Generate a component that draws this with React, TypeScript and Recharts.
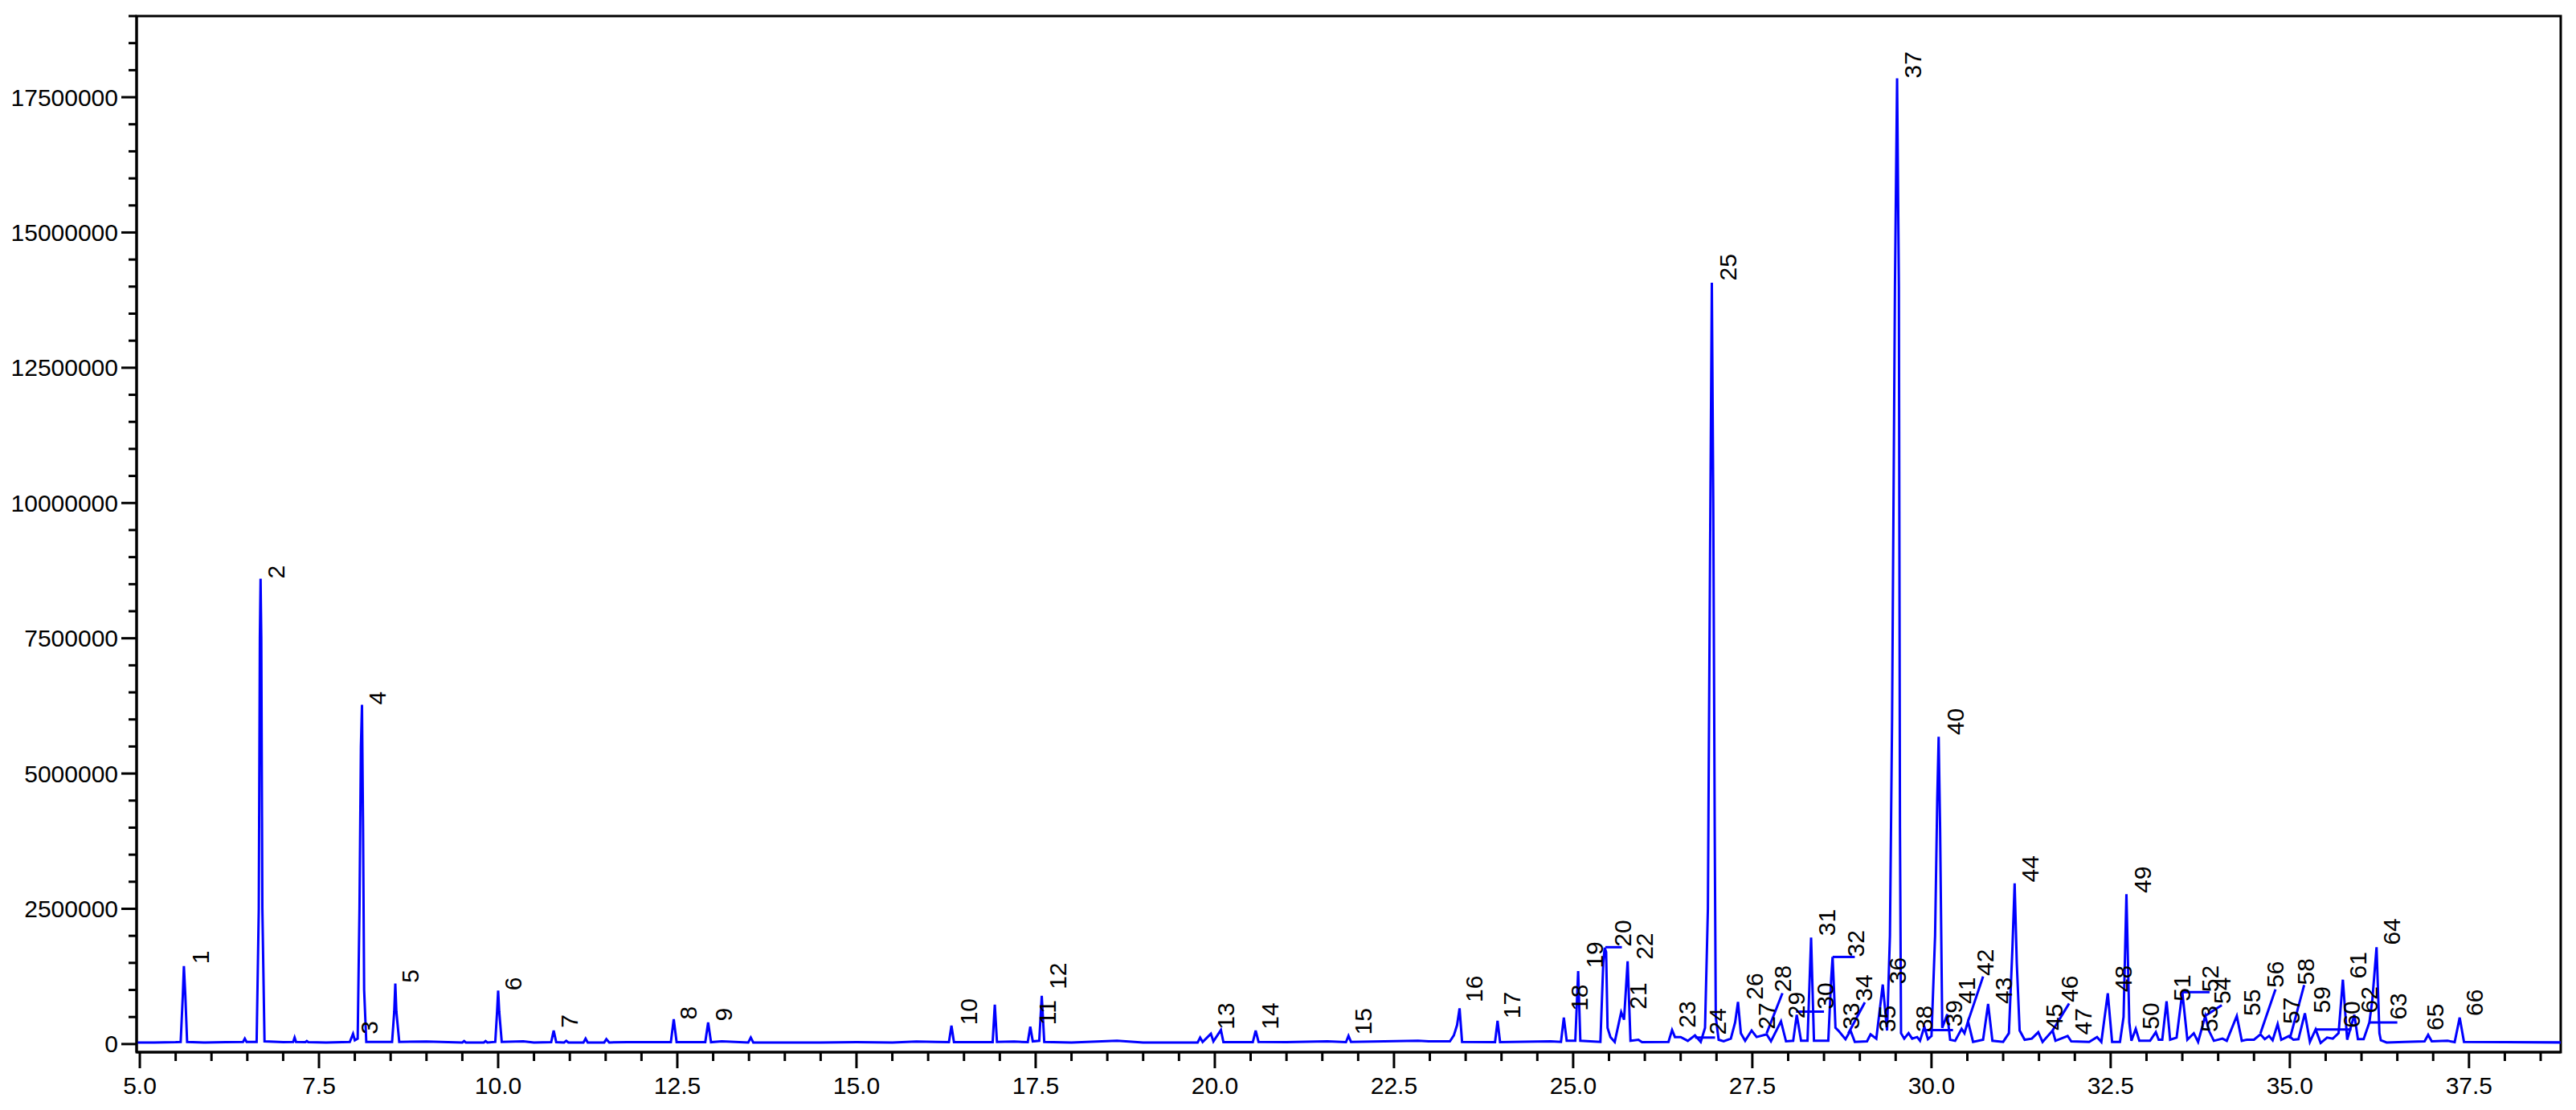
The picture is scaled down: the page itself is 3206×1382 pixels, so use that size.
import React from "react";
import { ComposedChart, Line, Scatter, XAxis, YAxis, ReferenceLine, ReferenceArea } from "recharts";

// Chromatogram trace: [retention time (min), intensity]
const TRACE: [number, number][] = [
  [4.955, 30000], [5.2, 30000], [5.5, 35000], [5.57, 40000], [5.6, 900000], [5.615, 1440000], [5.635, 900000], [5.66, 40000],
  [5.9, 30000], [6.2, 35000], [6.44, 40000], [6.465, 100000], [6.49, 40000], [6.63, 40000], [6.66, 2500000], [6.675, 7500000],
  [6.685, 8600000], [6.695, 7500000], [6.71, 2500000], [6.74, 50000], [7.0, 35000], [7.14, 40000], [7.16, 120000], [7.18, 40000],
  [7.31, 35000], [7.33, 55000], [7.35, 35000], [7.6, 30000], [7.93, 40000], [7.975, 190000], [8.0, 70000], [8.04, 100000],
  [8.065, 2500000], [8.085, 5500000], [8.1, 6270000], [8.115, 4000000], [8.13, 1000000], [8.16, 40000], [8.52, 40000],
  [8.55, 600000], [8.565, 1120000], [8.58, 600000], [8.62, 40000], [9.0, 45000], [9.5, 30000], [9.525, 55000], [9.55, 30000],
  [9.8, 30000], [9.825, 55000], [9.85, 30000], [9.96, 40000], [9.985, 600000], [10.0, 990000], [10.015, 600000], [10.05, 40000],
  [10.35, 50000], [10.5, 30000], [10.74, 35000], [10.775, 250000], [10.81, 35000], [10.92, 30000], [10.95, 60000], [10.98, 30000],
  [11.19, 30000], [11.22, 100000], [11.25, 30000], [11.48, 30000], [11.51, 90000], [11.55, 30000], [11.8, 35000], [12.41, 35000],
  [12.45, 460000], [12.49, 35000], [12.89, 35000], [12.93, 400000], [12.97, 35000], [13.12, 50000], [13.49, 30000],
  [13.525, 120000], [13.56, 30000], [14.5, 30000], [15.0, 35000], [15.5, 30000], [15.835, 45000], [16.11, 40000], [16.29, 35000],
  [16.325, 340000], [16.36, 35000], [16.9, 35000], [16.93, 730000], [16.96, 40000], [17.2, 45000], [17.39, 35000],
  [17.425, 320000], [17.46, 50000], [17.55, 60000], [17.585, 890000], [17.62, 40000], [18.0, 30000], [18.635, 60000],
  [19.0, 30000], [19.76, 30000], [19.795, 120000], [19.83, 40000], [19.945, 190000], [19.98, 50000], [20.085, 260000],
  [20.12, 35000], [20.53, 35000], [20.57, 250000], [20.61, 40000], [21.0, 35000], [21.57, 50000], [21.83, 35000],
  [21.865, 150000], [21.9, 40000], [22.835, 60000], [22.985, 50000], [23.28, 50000], [23.335, 160000], [23.38, 350000],
  [23.415, 660000], [23.45, 40000], [23.91, 35000], [23.945, 430000], [23.98, 35000], [24.685, 50000], [24.83, 40000],
  [24.87, 490000], [24.91, 60000], [25.03, 60000], [25.07, 1350000], [25.1, 60000], [25.38, 40000], [25.42, 1500000],
  [25.44, 1780000], [25.46, 1700000], [25.48, 300000], [25.52, 130000], [25.58, 40000], [25.67, 590000], [25.71, 450000],
  [25.76, 1530000], [25.8, 60000], [25.91, 80000], [25.96, 35000], [26.33, 40000], [26.38, 260000], [26.42, 130000],
  [26.5, 130000], [26.6, 60000], [26.7, 160000], [26.78, 40000], [26.84, 300000], [26.88, 2500000], [26.91, 9000000],
  [26.935, 14070000], [26.955, 10000000], [26.975, 4000000], [26.99, 500000], [27.03, 80000], [27.1, 50000], [27.2, 100000],
  [27.26, 400000], [27.3, 780000], [27.34, 200000], [27.4, 60000], [27.49, 250000], [27.56, 130000], [27.7, 180000],
  [27.76, 50000], [27.9, 420000], [27.97, 50000], [28.07, 60000], [28.12, 540000], [28.18, 60000], [28.27, 60000],
  [28.32, 1970000], [28.36, 60000], [28.56, 60000], [28.6, 1200000], [28.62, 1610000], [28.64, 1000000], [28.66, 300000],
  [28.7, 250000], [28.8, 90000], [28.87, 250000], [28.93, 40000], [29.1, 50000], [29.15, 180000], [29.23, 100000],
  [29.32, 1100000], [29.38, 250000], [29.42, 2000000], [29.45, 6000000], [29.49, 14000000], [29.52, 17850000],
  [29.545, 14000000], [29.56, 4000000], [29.575, 200000], [29.62, 100000], [29.68, 200000], [29.73, 100000], [29.8, 130000],
  [29.84, 60000], [29.9, 320000], [29.95, 90000], [30.0, 150000], [30.05, 2000000], [30.08, 4500000], [30.1, 5680000],
  [30.12, 4000000], [30.15, 300000], [30.22, 550000], [30.26, 80000], [30.33, 60000], [30.42, 280000], [30.46, 200000],
  [30.51, 420000], [30.58, 40000], [30.72, 80000], [30.79, 740000], [30.85, 60000], [31.0, 40000], [31.08, 200000],
  [31.13, 1800000], [31.16, 2970000], [31.19, 1500000], [31.23, 250000], [31.3, 80000], [31.4, 100000], [31.49, 220000],
  [31.55, 40000], [31.69, 250000], [31.73, 60000], [31.9, 150000], [31.95, 50000], [32.2, 40000], [32.31, 130000],
  [32.37, 40000], [32.46, 940000], [32.52, 40000], [32.63, 40000], [32.68, 500000], [32.72, 2770000], [32.76, 400000],
  [32.79, 60000], [32.85, 280000], [32.9, 60000], [33.05, 60000], [33.13, 220000], [33.17, 80000], [33.22, 80000],
  [33.28, 790000], [33.33, 80000], [33.42, 120000], [33.5, 960000], [33.57, 80000], [33.66, 200000], [33.72, 40000],
  [33.82, 520000], [33.87, 250000], [33.94, 60000], [34.06, 100000], [34.12, 60000], [34.26, 520000], [34.33, 60000],
  [34.4, 80000], [34.5, 80000], [34.59, 180000], [34.65, 90000], [34.71, 150000], [34.76, 70000], [34.83, 370000],
  [34.88, 80000], [34.99, 150000], [35.05, 80000], [35.12, 90000], [35.21, 570000], [35.28, 40000], [35.36, 270000],
  [35.43, 20000], [35.52, 120000], [35.6, 100000], [35.68, 200000], [35.74, 1190000], [35.8, 80000], [35.9, 540000],
  [35.95, 90000], [36.03, 90000], [36.11, 400000], [36.15, 800000], [36.21, 1790000], [36.25, 200000], [36.27, 70000],
  [36.35, 30000], [36.6, 40000], [36.88, 50000], [36.93, 170000], [36.98, 50000], [37.2, 60000], [37.3, 35000], [37.37, 490000],
  [37.43, 40000], [38.0, 35000], [38.78, 30000],
];

// Peak labels: [number, retention time, label base intensity]
const PEAK_LABELS: [string, number, number][] = [
  ["1", 5.85, 1480000], ["2", 6.9, 8600000], ["3", 8.2, 180000], ["4", 8.31, 6270000], ["5", 8.77, 1130000],
  ["6", 10.21, 990000], ["7", 10.99, 300000], ["8", 12.65, 450000], ["9", 13.14, 420000], ["10", 16.56, 350000],
  ["11", 17.66, 350000], ["12", 17.81, 1010000], ["13", 20.15, 270000], ["14", 20.77, 270000], ["15", 22.07, 170000],
  ["16", 23.62, 770000], ["17", 24.14, 470000], ["18", 25.08, 610000], ["19", 25.3, 1400000], ["20", 25.69, 1800000],
  ["21", 25.9, 640000], ["22", 25.99, 1560000], ["23", 26.59, 300000], ["24", 27.01, 170000], ["25", 27.16, 14110000],
  ["26", 27.53, 820000], ["27", 27.7, 270000], ["28", 27.92, 960000], ["29", 28.11, 470000], ["30", 28.52, 640000],
  ["31", 28.54, 2000000], ["32", 28.94, 1610000], ["33", 28.88, 270000], ["34", 29.05, 790000], ["35", 29.38, 220000],
  ["36", 29.53, 1110000], ["37", 29.74, 17850000], ["38", 29.9, 220000], ["39", 30.31, 320000], ["40", 30.33, 5710000],
  ["41", 30.49, 740000], ["42", 30.75, 1260000], ["43", 31.0, 740000], ["44", 31.37, 2990000], ["45", 31.71, 250000],
  ["46", 31.92, 770000], ["47", 32.12, 170000], ["48", 32.68, 960000], ["49", 32.94, 2790000], ["50", 33.06, 270000],
  ["51", 33.49, 790000], ["52", 33.89, 960000], ["53", 33.88, 220000], ["54", 34.05, 740000], ["55", 34.47, 520000],
  ["56", 34.8, 1040000], ["57", 35.02, 370000], ["58", 35.22, 1090000], ["59", 35.44, 570000], ["60", 35.86, 300000],
  ["61", 35.95, 1210000], ["62", 36.11, 570000], ["63", 36.51, 450000], ["64", 36.42, 1830000], ["65", 37.03, 250000],
  ["66", 37.57, 520000],
];

// Leader lines from peak to label: [t1, v1, t2, v2]
const LEADERS: [number, number, number, number][] = [
  [25.45, 1790000, 25.68, 1790000], [26.7, 120000, 26.98, 120000], [27.7, 200000, 27.92, 940000],
  [28.11, 600000, 28.5, 600000], [28.62, 1610000, 28.93, 1610000], [28.84, 200000, 29.07, 770000],
  [29.9, 260000, 30.3, 260000], [30.51, 420000, 30.72, 1250000], [31.69, 250000, 31.92, 750000],
  [33.5, 960000, 33.88, 960000], [33.82, 520000, 34.05, 720000], [34.59, 200000, 34.8, 1010000],
  [35.0, 100000, 35.2, 1090000], [35.36, 270000, 35.86, 270000], [36.11, 400000, 36.5, 400000],
];

const X_DOMAIN: [number, number] = [4.955, 38.78];
const Y_DOMAIN: [number, number] = [-150000, 19000000];
const X_TICKS: number[] = [5.0, 5.5, 6.0, 6.5, 7.0, 7.5, 8.0, 8.5, 9.0, 9.5, 10.0, 10.5, 11.0, 11.5, 12.0, 12.5, 13.0, 13.5, 14.0, 14.5, 15.0, 15.5, 16.0, 16.5, 17.0, 17.5, 18.0, 18.5, 19.0, 19.5, 20.0, 20.5, 21.0, 21.5, 22.0, 22.5, 23.0, 23.5, 24.0, 24.5, 25.0, 25.5, 26.0, 26.5, 27.0, 27.5, 28.0, 28.5, 29.0, 29.5, 30.0, 30.5, 31.0, 31.5, 32.0, 32.5, 33.0, 33.5, 34.0, 34.5, 35.0, 35.5, 36.0, 36.5, 37.0, 37.5, 38.0, 38.5];
const Y_TICKS: number[] = [0, 500000, 1000000, 1500000, 2000000, 2500000, 3000000, 3500000, 4000000, 4500000, 5000000, 5500000, 6000000, 6500000, 7000000, 7500000, 8000000, 8500000, 9000000, 9500000, 10000000, 10500000, 11000000, 11500000, 12000000, 12500000, 13000000, 13500000, 14000000, 14500000, 15000000, 15500000, 16000000, 16500000, 17000000, 17500000, 18000000, 18500000, 19000000];

const FONT = "'Liberation Sans', Arial, sans-serif";
const BLUE = "#0000ff";

const traceData = TRACE.map(([t, v]) => ({ t, v }));
const labelData = PEAK_LABELS.map(([n, t, v]) => ({ n, t, v }));

const isMajorX = (v: number) => Math.abs(v / 2.5 - Math.round(v / 2.5)) < 1e-6;
const isMajorY = (v: number) => Math.abs(v / 2500000 - Math.round(v / 2500000)) < 1e-6;

const XTick = (props: any) => {
  const { x, y, payload } = props;
  const major = isMajorX(payload.value);
  return (
    <g>
      <line x1={x} x2={x} y1={y} y2={y + (major ? 20 : 11)} stroke="#000" strokeWidth={3} />
      {major && (
        <text x={x} y={y + 41} textAnchor="middle" dominantBaseline="central" fontSize={30} fontFamily={FONT} fill="#000">
          {payload.value.toFixed(1)}
        </text>
      )}
    </g>
  );
};

const YTick = (props: any) => {
  const { x, y, payload } = props;
  const major = isMajorY(payload.value);
  return (
    <g>
      <line x1={x - (major ? 19 : 10)} x2={x} y1={y} y2={y} stroke="#000" strokeWidth={3} />
      {major && (
        <text x={x - 23} y={y} textAnchor="end" dominantBaseline="central" fontSize={30} fontFamily={FONT} fill="#000">
          {String(payload.value)}
        </text>
      )}
    </g>
  );
};

const LabelShape = (props: any) => {
  const { cx, cy, payload } = props;
  return (
    <text
      x={cx}
      y={cy}
      transform={`rotate(-90 ${cx} ${cy})`}
      textAnchor="start"
      dominantBaseline="central"
      fontSize={30}
      fontFamily={FONT}
      fill="#000"
    >
      {payload.n}
    </text>
  );
};

export default function App() {
  return (
    <div style={{ position: "absolute", left: 0, top: 0, width: 3206, height: 1382, background: "#fff" }}>
      <ComposedChart width={3206} height={1382} margin={{ top: 20, right: 19, left: 0, bottom: 0 }}>
        <XAxis
          dataKey="t"
          type="number"
          domain={X_DOMAIN}
          ticks={X_TICKS}
          interval={0}
          allowDataOverflow
          height={72}
          tickSize={0}
          tickMargin={0}
          tickLine={false}
          axisLine={{ stroke: "#000", strokeWidth: 3 }}
          tick={<XTick />}
        />
        <YAxis
          type="number"
          domain={Y_DOMAIN}
          ticks={Y_TICKS}
          interval={0}
          allowDataOverflow
          width={170}
          tickSize={0}
          tickMargin={0}
          tickLine={false}
          axisLine={{ stroke: "#000", strokeWidth: 3 }}
          tick={<YTick />}
        />
        <ReferenceArea
          x1={X_DOMAIN[0]}
          x2={X_DOMAIN[1]}
          y1={Y_DOMAIN[0]}
          y2={Y_DOMAIN[1]}
          fill="none"
          stroke="#000"
          strokeWidth={3}
          ifOverflow="visible"
        />
        <Line
          data={traceData}
          dataKey="v"
          type="linear"
          stroke={BLUE}
          strokeWidth={3}
          dot={false}
          activeDot={false}
          isAnimationActive={false}
        />
        {LEADERS.map(([t1, v1, t2, v2], i) => (
          <ReferenceLine
            key={i}
            segment={[{ x: t1, y: v1 }, { x: t2, y: v2 }]}
            stroke={BLUE}
            strokeWidth={3}
            ifOverflow="visible"
          />
        ))}
        <Scatter data={labelData} dataKey="v" shape={<LabelShape />} isAnimationActive={false} />
      </ComposedChart>
    </div>
  );
}
